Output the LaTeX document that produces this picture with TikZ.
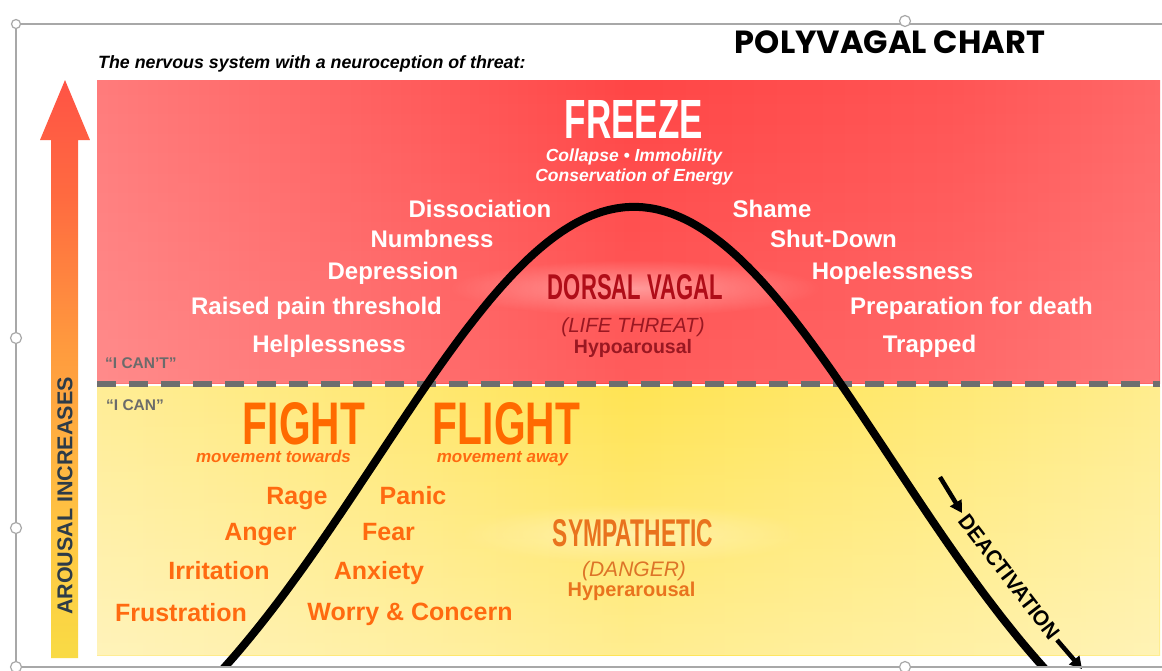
\documentclass[tikz,border=0pt]{standalone}
\usepackage{fontspec}
\setmainfont{Liberation Sans}
\newfontfamily\titlefont{Poppins}
\usetikzlibrary{fadings,arrows.meta}
\definecolor{rA}{HTML}{FFA0A0}
\definecolor{rB}{HTML}{FF8686}
\definecolor{rC}{HTML}{FF5C5C}
\definecolor{rD}{HTML}{FF4646}
\definecolor{rE}{HTML}{FF5454}
\definecolor{rF}{HTML}{FF7C7C}
\definecolor{rG}{HTML}{FF9494}
\definecolor{yA}{HTML}{FFF4BC}
\definecolor{yB}{HTML}{FFEFA2}
\definecolor{yC}{HTML}{FFE872}
\definecolor{yD}{HTML}{FFE454}
\definecolor{yE}{HTML}{FFE974}
\definecolor{yF}{HTML}{FFF1AA}
\definecolor{yG}{HTML}{FFF5C2}
\definecolor{dashcol}{HTML}{6E6E6E}
\definecolor{framec}{HTML}{A8A8A8}
\definecolor{orgT}{HTML}{FF6A10}
\definecolor{orgH}{HTML}{FF6A00}
\definecolor{symC}{HTML}{E9731E}
\definecolor{dangC}{HTML}{DD7428}
\definecolor{dvC}{HTML}{B00D18}
\definecolor{ltC}{HTML}{9A1822}
\definecolor{grayT}{HTML}{6B6B6B}
\definecolor{arousC}{HTML}{2D3B48}
\definecolor{arA}{HTML}{E2E65E}
\definecolor{arB}{HTML}{F4E846}
\definecolor{arC}{HTML}{FFC843}
\definecolor{arD}{HTML}{FF9A3E}
\definecolor{arE}{HTML}{FF6A40}
\definecolor{arF}{HTML}{FF4848}
\definecolor{arG}{HTML}{FF3A3A}
\tikzfading[name=glowfade, inner color=transparent!0, outer color=transparent!100]
\tikzfading[name=downfade, top color=transparent!100, bottom color=transparent!0]
\pgfdeclareverticalshading{arrowshade}{100bp}{color(0bp)=(arA); color(18bp)=(arB); color(35bp)=(arC); color(52bp)=(arD); color(65bp)=(arE); color(80bp)=(arF); color(100bp)=(arG)}
\pgfdeclarehorizontalshading{redshade}{100bp}{color(0bp)=(rA); color(20bp)=(rB); color(40bp)=(rC); color(50bp)=(rD); color(65bp)=(rE); color(85bp)=(rF); color(100bp)=(rG)}
\pgfdeclarehorizontalshading{yelshade}{100bp}{color(0bp)=(yA); color(20bp)=(yB); color(40bp)=(yC); color(50bp)=(yD); color(65bp)=(yE); color(85bp)=(yF); color(100bp)=(yG)}
\newcommand\fsz[1]{\fontsize{#1}{#1}\selectfont}
\begin{document}
\begin{tikzpicture}[x=1pt,y=-1pt,
  wlist/.style={text=white, font=\fsz{24}\bfseries, inner sep=0pt, anchor=base},
  olist/.style={text=orgT, font=\fsz{25}\bfseries, inner sep=0pt, anchor=base},
  ctr/.style={inner sep=0pt, anchor=center},
  bse/.style={inner sep=0pt, anchor=base},
  handle/.style={draw=framec, fill=white, line width=1.2pt},
  deact/.style={line width=4.5pt, -{Triangle[length=12pt,width=13pt]}}]
\useasboundingbox (0,0) rectangle (1162,670);
\fill[white] (0,0) rectangle (1162,670);
% zones
\shade[shading=redshade] (97,80) rectangle (1160,383);
\fill[white, opacity=0.12, path fading=downfade] (97,80) rectangle (1160,383);
\shade[shading=yelshade] (97,386) rectangle (1160,655);
\fill[white, opacity=0.35, path fading=downfade] (97,386) rectangle (1160,655);
\coordinate (dl) at (97,383.5);
\coordinate (dr) at (1160,383.5);
\draw[dashcol, line width=6pt, dash pattern=on 19pt off 13pt] (dl) -- (dr);
% arousal arrow
\shade[shading=arrowshade] (51,658) -- (51,140) -- (40,140) -- (65,80) -- (90,140) -- (78,140) -- (78,658) -- cycle;
\node[ctr, rotate=90, text=arousC, font=\fsz{21.5}\bfseries] (arous) at (65,496) {AROUSAL INCREASES};
% glows
\fill[white, opacity=0.4, path fading=glowfade] (635,288) ellipse [x radius=185, y radius=28];
\fill[white, opacity=0.4, path fading=glowfade] (633,534) ellipse [x radius=172, y radius=30];
% curve
\begin{scope}
\clip (0,0) rectangle (1162,667);
\draw[line width=8pt] plot[domain=-4.4:4.4, samples=150, smooth] ({634+100*\x},{207+640*(1-exp(-\x*\x/13.2))});
\end{scope}
% title
\node[ctr] (title) at (890,42) {\resizebox{310pt}{!}{\titlefont\bfseries POLYVAGAL CHART}};
\node[bse, anchor=base west, font=\fsz{17.8}\bfseries\itshape] (sub) at (98,68) {The nervous system with a neuroception of threat:};
% freeze
\node[ctr, text=white] (freeze) at (634,119) {\resizebox{138pt}{38pt}{\bfseries FREEZE}};
\node[bse, text=white, font=\fsz{17.5}\bfseries\itshape] (coll) at (634,161) {Collapse • Immobility};
\node[bse, text=white, font=\fsz{17.5}\bfseries\itshape] (cons) at (634,181) {Conservation of Energy};
% white lists
\node[wlist] (w1) at (480,217) {Dissociation};
\node[wlist] (w2) at (432,247) {Numbness};
\node[wlist] (w3) at (393,279) {Depression};
\node[wlist] (w4) at (316.5,314) {Raised pain threshold};
\node[wlist] (w5) at (329,352) {Helplessness};
\node[wlist] (w6) at (772,217) {Shame};
\node[wlist] (w7) at (833.5,247) {Shut-Down};
\node[wlist] (w8) at (892.5,279) {Hopelessness};
\node[wlist] (w9) at (971.5,314) {Preparation for death};
\node[wlist] (w10) at (929.5,352) {Trapped};
% dorsal vagal
\node[ctr, text=dvC] (dv) at (635.5,287.5) {\resizebox{175pt}{25pt}{\bfseries DORSAL VAGAL}};
\node[bse, text=ltC, font=\fsz{20.5}\itshape] (lt) at (633,332) {(LIFE THREAT)};
\node[bse, text=ltC, font=\fsz{19.5}\bfseries] (hypo) at (633,353) {Hypoarousal};
% can / cant
\node[bse, anchor=base west, text=grayT, font=\fsz{15.5}\bfseries] (cant) at (105,368) {“I CAN’T”};
\node[bse, anchor=base west, text=grayT, font=\fsz{15.5}\bfseries] (can) at (106,410) {“I CAN”};
% fight flight
\node[ctr, text=orgH] (fight) at (304,424) {\resizebox{122pt}{42pt}{\bfseries FIGHT}};
\node[bse, text=orgT, font=\fsz{17}\bfseries\itshape] (towards) at (273.5,462) {movement towards};
\node[ctr, text=orgH] (flight) at (506.5,424) {\resizebox{147pt}{42pt}{\bfseries FLIGHT}};
\node[bse, text=orgT, font=\fsz{17}\bfseries\itshape] (away) at (502.5,462) {movement away};
% orange lists
\node[olist] (o1) at (297,504) {Rage};
\node[olist] (o2) at (260.5,540) {Anger};
\node[olist] (o3) at (219,579) {Irritation};
\node[olist] (o4) at (181,621) {Frustration};
\node[olist] (o5) at (413,504) {Panic};
\node[olist] (o6) at (388.5,540) {Fear};
\node[olist] (o7) at (379,579) {Anxiety};
\node[olist] (o8) at (410,620) {Worry \& Concern};
% sympathetic
\node[ctr, text=symC] (sym) at (633,533.5) {\resizebox{160pt}{27pt}{\bfseries SYMPATHETIC}};
\node[bse, text=dangC, font=\fsz{21}\itshape] (danger) at (634,576) {(DANGER)};
\node[bse, text=symC, font=\fsz{20}\bfseries] (hyper) at (631.5,596) {Hyperarousal};
% deactivation
\node[ctr, rotate=-52.5] (deac) at (1009,577) {\resizebox{151pt}{15pt}{\bfseries DEACTIVATION}};
\coordinate (a1s) at (940,477);
\coordinate (a1e) at (962,513);
\coordinate (a2s) at (1057,640);
\coordinate (a2e) at (1082,669);
\draw[deact] (a1s) -- (a1e);
\draw[deact] (a2s) -- (a2e);
% frame
\coordinate (f1) at (1162,24);
\coordinate (f2) at (16,24);
\coordinate (f3) at (16,667);
\coordinate (f4) at (1162,667);
\draw[framec, line width=1.5pt] (f1) -- (f2) -- (f3) -- (f4);
\draw[handle] (905,21) circle (5.5);
\draw[handle] (16,24) circle (4.5);
\draw[handle] (16,338) circle (5.5);
\draw[handle] (16,528) circle (5.5);
\draw[handle] (16,667) circle (5.5);
\draw[handle] (905,667) circle (5.5);
\end{tikzpicture}
\end{document}
